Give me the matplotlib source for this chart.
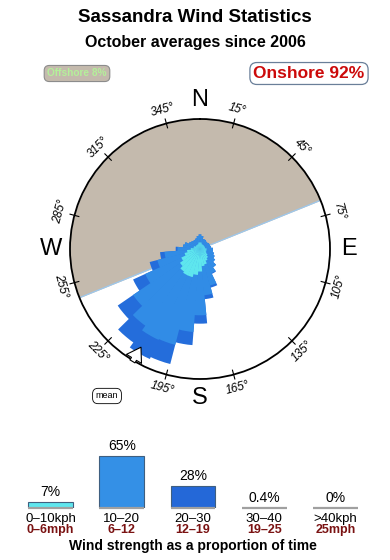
import numpy as np
import matplotlib
matplotlib.use("Agg")
import matplotlib.pyplot as plt
from matplotlib.patches import FancyArrowPatch

plt.rcParams['font.family'] = ['Liberation Sans', 'DejaVu Sans']

# ---------------- data ----------------
title = "Sassandra Wind Statistics"
subtitle = "October averages since 2006"
offshore_pct = 8
onshore_pct = 92
shore_start, shore_end = 248, 68   # offshore sector (bearing, clockwise through north)
mean_dir = 211

directions = list(range(0, 360, 10))
cyan_0_10 = [0.05, 0.05, 0.03, 0.03, 0.03, 0.03, 0.03, 0.03, 0.03, 0.05, 0.05, 0.05,
             0.06, 0.10, 0.15, 0.20, 0.30, 0.35, 0.60, 0.80, 1.00, 1.00, 0.90, 0.70,
             0.50, 0.30, 0.20, 0.10, 0.05, 0.05, 0.03, 0.03, 0.03, 0.03, 0.03, 0.05]
blue_10_20 = [0.20, 0.15, 0.10, 0.10, 0.08, 0.08, 0.10, 0.10, 0.12, 0.15, 0.15, 0.20,
              0.25, 0.30, 0.45, 0.65, 1.40, 2.20, 4.60, 7.40, 10.6, 10.8, 9.60, 7.10,
              3.80, 2.00, 1.30, 0.50, 0.30, 0.25, 0.15, 0.12, 0.10, 0.10, 0.12, 0.15]
dark_20_30 = [0, 0, 0, 0, 0, 0, 0, 0, 0, 0, 0, 0,
              0, 0, 0, 0.05, 0.20, 0.45, 1.40, 2.80, 5.10, 5.50, 5.10, 4.00,
              2.10, 0.90, 0.40, 0.10, 0, 0, 0, 0, 0, 0, 0, 0]

tick_bearings = [15, 45, 75, 105, 135, 165, 195, 225, 255, 285, 315, 345]
compass = [("N", 0), ("E", 90), ("S", 180), ("W", 270)]

speed_kph = ["0–10kph", "10–20", "20–30", "30–40", ">40kph"]
speed_mph = ["0–6mph", "6–12", "12–19", "19–25", "25mph"]
speed_pct = [7, 65, 28, 0.4, 0]
speed_lbl = ["7%", "65%", "28%", "0.4%", "0%"]

# ---------------- style ----------------
C_CYAN = "#5ee6ee"
C_BLUE = "#318ce6"
C_DARK = "#246ddb"
C_GREY = "#c4baad"

W, H = 390, 560
fig = plt.figure(figsize=(W / 100, H / 100), dpi=100)
fig.patch.set_facecolor("white")

def px(x, y):
    return x / W, 1 - y / H

# titles
fig.text(*px(195, 18), title, ha="center", va="center", fontsize=13.5, fontweight="bold")
fig.text(*px(195, 42), subtitle, ha="center", va="center", fontsize=11.5, fontweight="bold")

fig.text(*px(77, 73.5), f"Offshore {offshore_pct}%", ha="center", va="center",
         fontsize=7.3, fontweight="bold", color="#b4f09a",
         bbox=dict(boxstyle="round,pad=0.3,rounding_size=0.5", fc=C_GREY, ec="#8c8c8c", lw=0.8))
fig.text(*px(309, 73.5), f"Onshore {onshore_pct}%", ha="center", va="center",
         fontsize=12.5, fontweight="bold", color="#cc0a0a",
         bbox=dict(boxstyle="round,pad=0.2,rounding_size=0.4", fc="white", ec="#6a7f99", lw=0.9))

# ---------------- rose ----------------
cx, cy, R = 200, 249, 130
ax = fig.add_axes([(cx - R) / W, (H - cy - R) / H, 2 * R / W, 2 * R / H], projection="polar")
ax.set_theta_zero_location("N")
ax.set_theta_direction(-1)
rmax = np.sqrt(20.0)
ax.set_ylim(0, rmax)
ax.set_xticks([])
ax.set_yticks([])
ax.grid(False)
ax.patch.set_alpha(0)
ax.spines["polar"].set_linewidth(1.3)
ax.spines["polar"].set_color("black")

span = (shore_end + 360 - shore_start)
th = np.radians(np.linspace(shore_start, shore_start + span, 300))
ax.fill_between(th, 0, rmax, color=C_GREY, lw=0, zorder=1)
ax.plot(np.radians([shore_end, shore_end, shore_start]), [rmax, 0, rmax],
        color="#9cc8ee", lw=0.9, zorder=1.5)

theta = np.radians(directions)
c = np.array(cyan_0_10)
b = np.array(blue_10_20)
d = np.array(dark_20_30)
r1 = np.sqrt(c)
r2 = np.sqrt(c + b)
r3 = np.sqrt(c + b + d)
wdt = np.radians(11)
ax.bar(theta, r3, width=wdt, bottom=0, color=C_DARK, lw=0, zorder=2)
ax.bar(theta, r2, width=wdt, bottom=0, color=C_BLUE, lw=0, zorder=3)
ax.bar(theta, r1, width=wdt, bottom=0, color=C_CYAN, lw=0, zorder=4)

for tb in tick_bearings:
    t = np.radians(tb)
    ax.plot([t, t], [rmax * 0.965, rmax * 1.035], color="black", lw=0.8, clip_on=False, zorder=6)
    rot = -tb if (tb < 90 or tb > 270) else 180 - tb
    ax.text(t, rmax * 1.11, f"{tb}°", rotation=rot, rotation_mode="anchor",
            ha="center", va="center", fontsize=8.5, fontstyle="italic", clip_on=False)

for lab, bb in compass:
    ax.text(np.radians(bb), rmax * 1.145, lab, ha="center", va="center",
            fontsize=17, clip_on=False)

arr = FancyArrowPatch((np.radians(mean_dir), rmax * 1.03), (np.radians(mean_dir), rmax * 0.86),
                      arrowstyle="simple,head_length=7,head_width=9,tail_width=3",
                      fc="white", ec="black", lw=0.8, zorder=7, clip_on=False,
                      mutation_scale=1.4)
ax.add_patch(arr)

fig.text(*px(107, 396), "mean", ha="center", va="center", fontsize=6.5,
         bbox=dict(boxstyle="round,pad=0.35,rounding_size=0.6", fc="white", ec="black", lw=0.6))

# ---------------- speed bars ----------------
x0, step, base_y = 50.5, 71.25, 508
bx = fig.add_axes([0, (H - base_y) / H, 1, 68 / H])
bx.set_xlim(-x0 / step, (W - x0) / step)
bx.set_ylim(0, 68 / 0.8)
bx.axis("off")
xs = np.arange(len(speed_pct))
bar_cols = [C_CYAN, "#3490e6", "#2468d8", "#9e9e9e", "#9e9e9e"]
bx.hlines(np.zeros(len(xs)), xs - 0.315, xs + 0.315, color="#a0a0a0", lw=1.6, clip_on=False)
bx.bar(xs[:3], speed_pct[:3], width=0.63, color=bar_cols[:3], edgecolor="#3f5f80", lw=0.8)
for i, (p, lab) in enumerate(zip(speed_pct, speed_lbl)):
    bx.annotate(lab, (i, p), xytext=(0, 3), textcoords="offset pixels",
                ha="center", va="bottom", fontsize=10, annotation_clip=False)
    bx.annotate(speed_kph[i], (i, 0), xytext=(0, -11), textcoords="offset pixels",
                ha="center", va="center", fontsize=9.5, annotation_clip=False)
    bx.annotate(speed_mph[i], (i, 0), xytext=(0, -22), textcoords="offset pixels",
                ha="center", va="center", fontsize=9, fontweight="bold", color="#7a1212",
                annotation_clip=False)

fig.text(*px(193, 546), "Wind strength as a proportion of time", ha="center", va="center",
         fontsize=10, fontweight="bold")

fig.savefig("out.png", dpi=100)
